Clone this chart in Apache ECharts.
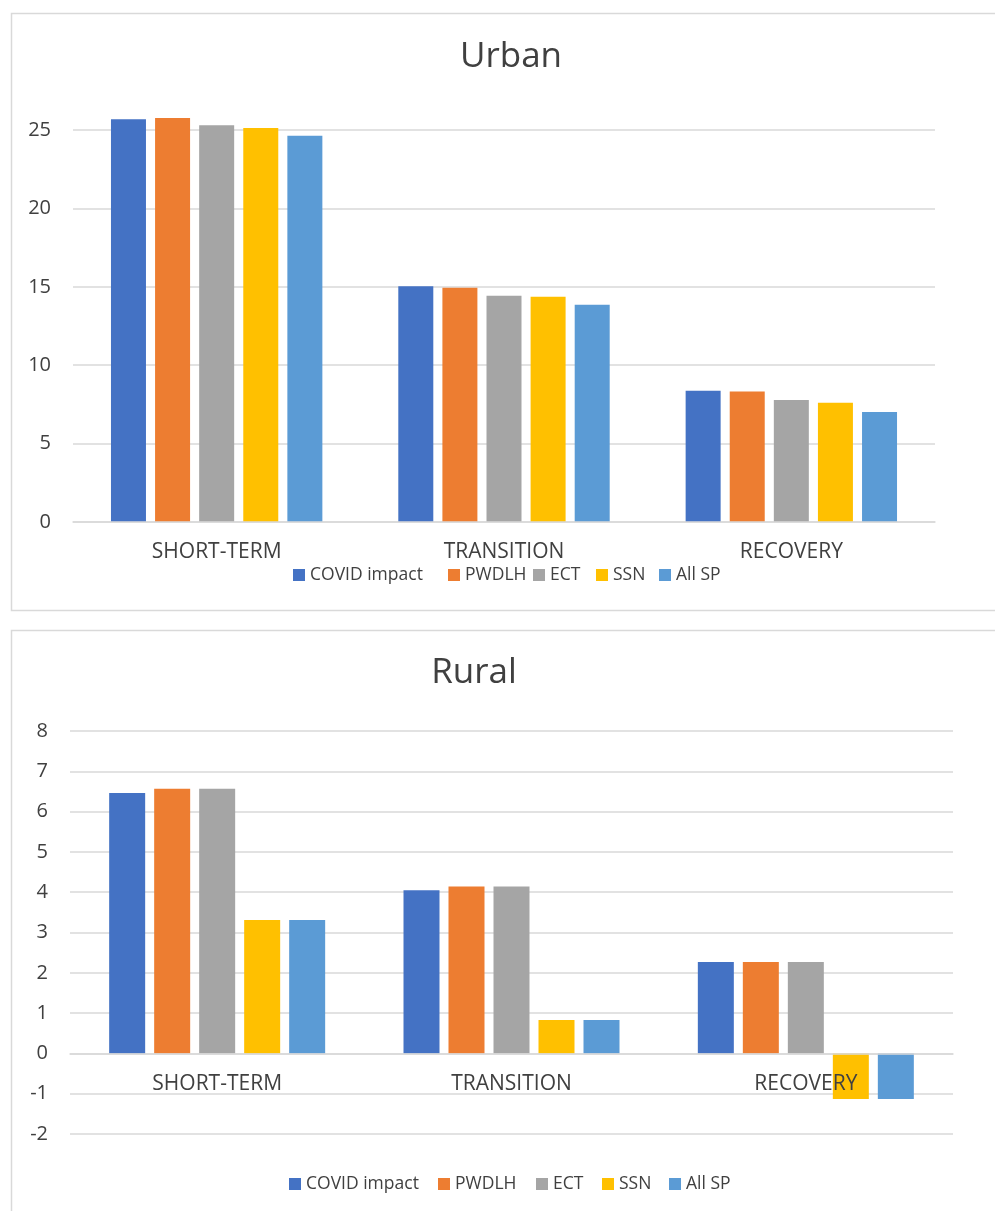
<!DOCTYPE html>
<html>
<head>
<meta charset="utf-8">
<script src="https://cdn.jsdelivr.net/npm/echarts@6/dist/echarts.min.js"></script>
<style>
  html, body { margin: 0; padding: 0; background: #ffffff; }
  #chart { width: 995px; height: 1211px; }
</style>
</head>
<body>
<div id="chart"></div>
<script>
// Phases shown on the category axis of both panels
const phases = ['SHORT-TERM', 'TRANSITION', 'RECOVERY'];
const seriesNames = ['COVID impact', 'PWDLH', 'ECT', 'SSN', 'All SP'];
const seriesColors = ['#4472C4', '#ED7D31', '#A5A5A5', '#FFC000', '#5B9BD5'];

// Urban values per phase
const urbanCovid = [25.68, 15.03, 8.37];
const urbanPwdlh = [25.77, 14.94, 8.33];
const urbanEct   = [25.30, 14.43, 7.78];
const urbanSsn   = [25.13, 14.37, 7.61];
const urbanAllSp = [24.64, 13.86, 7.02];

// Rural values per phase
const ruralCovid = [6.46, 4.05, 2.27];
const ruralPwdlh = [6.57, 4.14, 2.27];
const ruralEct   = [6.57, 4.14, 2.27];
const ruralSsn   = [3.31, 0.83, -1.13];
const ruralAllSp = [3.31, 0.83, -1.13];

// Axis ticks
const urbanTicks = { min: 0, max: 25, interval: 5 };
const ruralTicks = { min: -2, max: 8, interval: 1 };

const urbanData = [urbanCovid, urbanPwdlh, urbanEct, urbanSsn, urbanAllSp];
const ruralData = [ruralCovid, ruralPwdlh, ruralEct, ruralSsn, ruralAllSp];

const FONT = '"Open Sans", "Noto Sans", sans-serif';
const TEXT = '#404040';
const GRID_LINE = '#d9d9d9';

const URBAN_GRID = { left: 73, top: 130, width: 862, height: 392 };
const RURAL_GRID = { left: 70, top: 731, width: 883, height: 403 };

// Category axis sitting on the zero line of its value axis
function catAxis(gridIndex, grid, ticks) {
  const zeroOffset = -grid.height * (0 - ticks.min) / (ticks.max - ticks.min);
  return {
    type: 'category', gridIndex: gridIndex, data: phases, z: 5,
    offset: zeroOffset,
    axisLine: { show: true, onZero: false, lineStyle: { color: GRID_LINE, width: 1.5 } },
    axisTick: { show: false },
    axisLabel: { color: TEXT, fontFamily: FONT, fontSize: 21, margin: 20 }
  };
}

function valAxis(gridIndex, ticks) {
  return {
    type: 'value', gridIndex: gridIndex,
    min: ticks.min, max: ticks.max, interval: ticks.interval,
    axisLine: { show: false }, axisTick: { show: false },
    splitLine: { show: true, lineStyle: { color: GRID_LINE, width: 1.5 } },
    axisLabel: { color: TEXT, fontFamily: FONT, fontSize: 20, margin: 22 }
  };
}

function barSeries(data, axisIndex, width, gap) {
  return data.map((values, i) => ({
    name: seriesNames[i], type: 'bar',
    xAxisIndex: axisIndex, yAxisIndex: axisIndex,
    data: values, barWidth: width, barGap: gap, clip: false,
    itemStyle: { color: seriesColors[i] },
    emphasis: { disabled: true }
  }));
}

// One legend entry per series, each placed at its own left edge
function legendRow(lefts, top) {
  return seriesNames.map((n, i) => ({
    left: lefts[i], top: top, orient: 'horizontal', padding: 0,
    data: [n], itemWidth: 12, itemHeight: 12, itemGap: 0,
    icon: 'rect', selectedMode: false,
    textStyle: { color: TEXT, fontFamily: FONT, fontSize: 17.5 }
  }));
}

const chart = echarts.init(document.getElementById('chart'), null, { renderer: 'canvas' });

chart.setOption({
  backgroundColor: '#ffffff',
  animation: false,
  grid: [URBAN_GRID, RURAL_GRID],
  xAxis: [catAxis(0, URBAN_GRID, urbanTicks), catAxis(1, RURAL_GRID, ruralTicks)],
  yAxis: [valAxis(0, urbanTicks), valAxis(1, ruralTicks)],
  legend: legendRow([293, 448, 533, 596, 659], 566)
    .concat(legendRow([289, 438, 536, 602, 669], 1175)),
  series: barSeries(urbanData, 0, 35, '26%').concat(barSeries(ruralData, 1, 36, '25%')),
  graphic: [
    { type: 'rect', silent: true, z: -1,
      shape: { x: 11.5, y: 13.5, width: 1000, height: 597 },
      style: { fill: 'none', stroke: GRID_LINE, lineWidth: 1.5 } },
    { type: 'rect', silent: true, z: -1,
      shape: { x: 11.5, y: 630.5, width: 1000, height: 600 },
      style: { fill: 'none', stroke: GRID_LINE, lineWidth: 1.5 } },
    { type: 'text', silent: true,
      style: { x: 511, y: 57, text: 'Urban', fill: TEXT, font: '35px ' + FONT,
               textAlign: 'center', textVerticalAlign: 'middle' } },
    { type: 'text', silent: true,
      style: { x: 474, y: 673, text: 'Rural', fill: TEXT, font: '35px ' + FONT,
               textAlign: 'center', textVerticalAlign: 'middle' } }
  ]
});
</script>
</body>
</html>
